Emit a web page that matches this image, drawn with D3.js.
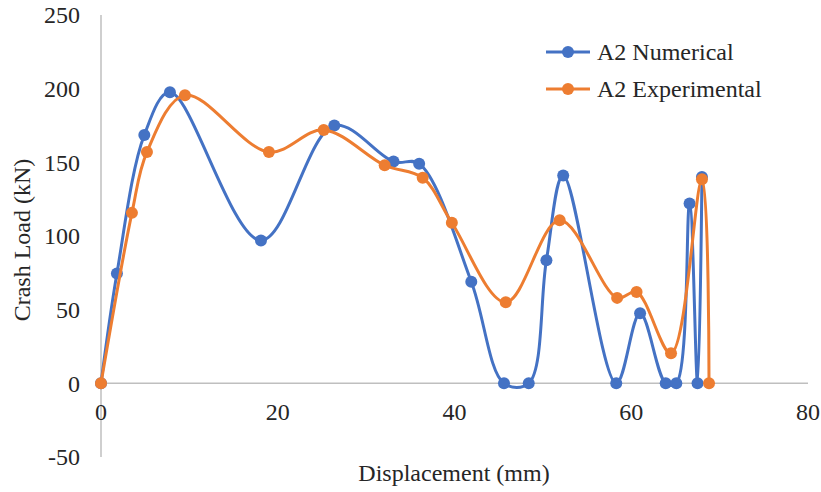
<!DOCTYPE html>
<html>
<head>
<meta charset="utf-8">
<script src="https://cdn.jsdelivr.net/npm/d3@7"></script>
<style>
  body { margin: 0; background: #fff; }
  text { font-family: "Liberation Serif", "Times New Roman", serif; fill: #262626; }
</style>
</head>
<body>
<div id="chart"></div>
<script>
// data
var numX = [0, 1.8, 4.9, 7.8, 18.1, 26.4, 33.1, 36.0, 41.9, 45.6, 48.4, 50.4, 52.3, 58.3, 61.0, 63.9, 65.1, 66.6, 67.5, 68.0];
var numY = [0, 74.5, 168.5, 197.5, 97, 175, 150.5, 149, 69, 0, 0, 83.5, 141, 0, 47.5, 0, 0, 122, 0, 140];
var expX = [0, 3.5, 5.2, 9.5, 19.0, 25.2, 32.1, 36.4, 39.7, 45.8, 51.9, 58.4, 60.6, 64.5, 68.0, 68.8];
var expY = [0, 115.7, 157, 195.6, 157, 172, 148, 139.5, 109, 55, 110.7, 58, 62, 20.4, 138.5, 0];
var seriesNames = ["A2 Numerical", "A2 Experimental"];
var xTicks = [0, 20, 40, 60, 80];
var yTicks = [-50, 0, 50, 100, 150, 200, 250];

var width = 821, height = 492;
var colors = ["#4472C4", "#ED7D31"];

var svg = d3.select("#chart").append("svg")
  .attr("width", width)
  .attr("height", height);

var x = d3.scaleLinear().domain([0, 80]).range([101, 808]);
var y = d3.scaleLinear().domain([-50, 250]).range([457, 15]);

// axes lines
svg.append("line")
  .attr("x1", x(0)).attr("x2", x(80))
  .attr("y1", y(0)).attr("y2", y(0))
  .attr("stroke", "#bfbfbf").attr("stroke-width", 1.5);
svg.append("line")
  .attr("x1", x(0)).attr("x2", x(0))
  .attr("y1", y(250)).attr("y2", y(-50))
  .attr("stroke", "#bfbfbf").attr("stroke-width", 1.5);

// tick labels
svg.selectAll(".ytick").data(yTicks).enter().append("text")
  .attr("class", "ytick")
  .attr("x", 80)
  .attr("y", d => y(d))
  .attr("dy", "0.35em")
  .attr("text-anchor", "end")
  .style("font-size", "24px")
  .text(d => d);

svg.selectAll(".xtick").data(xTicks).enter().append("text")
  .attr("class", "xtick")
  .attr("x", d => x(d))
  .attr("y", y(0) + 37)
  .attr("text-anchor", "middle")
  .style("font-size", "24px")
  .text(d => d);

// axis titles
svg.append("text")
  .attr("x", 454).attr("y", 481)
  .attr("text-anchor", "middle")
  .style("font-size", "24px")
  .text("Displacement (mm)");
svg.append("text")
  .attr("transform", "translate(30,240) rotate(-90)")
  .attr("text-anchor", "middle")
  .style("font-size", "24px")
  .text("Crash Load (kN)");

var line = d3.line()
  .x(d => x(d[0]))
  .y(d => y(d[1]))
  .curve(d3.curveCatmullRom.alpha(0.5));

var series = [d3.zip(numX, numY), d3.zip(expX, expY)];

series.forEach(function (pts, i) {
  var g = svg.append("g");
  g.append("path")
    .datum(pts)
    .attr("d", line)
    .attr("fill", "none")
    .attr("stroke", colors[i])
    .attr("stroke-width", 3)
    .attr("stroke-linejoin", "round");
  g.selectAll("circle").data(pts).enter().append("circle")
    .attr("cx", d => x(d[0]))
    .attr("cy", d => y(d[1]))
    .attr("r", 6)
    .attr("fill", colors[i]);
});

// legend
seriesNames.forEach(function (name, i) {
  var ly = 52 + i * 37;
  svg.append("line")
    .attr("x1", 546).attr("x2", 590)
    .attr("y1", ly).attr("y2", ly)
    .attr("stroke", colors[i]).attr("stroke-width", 3);
  svg.append("circle")
    .attr("cx", 568).attr("cy", ly).attr("r", 6)
    .attr("fill", colors[i]);
  svg.append("text")
    .attr("x", 597).attr("y", ly)
    .attr("dy", "0.35em")
    .style("font-size", "24px")
    .text(name);
});
</script>
</body>
</html>
